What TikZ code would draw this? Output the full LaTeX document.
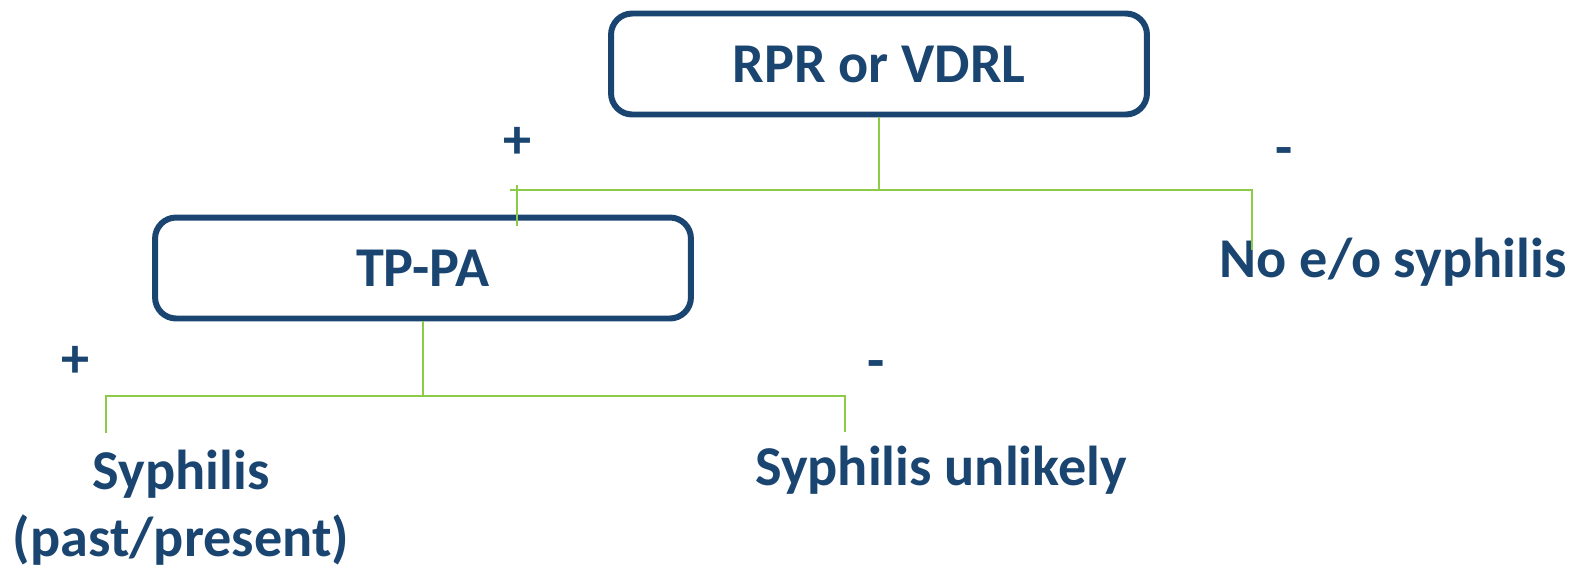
\documentclass[tikz,border=0pt]{standalone}
\usepackage{fontspec}
\setmainfont{Carlito}
\definecolor{boxblue}{HTML}{1B4571}
\definecolor{linegreen}{HTML}{8CCB4A}
\tikzset{
  testbox/.style={draw=boxblue, line width=3.4pt, rounded corners=12pt, minimum width=10.72cm, minimum height=2.02cm, font=\fontsize{32}{38}\selectfont\bfseries, text=boxblue},
  result/.style={font=\fontsize{32}{38}\selectfont\bfseries, text=boxblue, align=center},
  sign/.style={font=\fontsize{32}{38}\selectfont\bfseries, text=boxblue},
  branch/.style={draw=linegreen, line width=1.1pt}
}
\begin{document}
\begin{tikzpicture}[x=0.02cm, y=-0.02cm]
\useasboundingbox (0,0) rectangle (1585,575);

\node[testbox] (rpr) at (879,64) {RPR or VDRL};
\node[testbox] (tppa) at (423,268) {TP-PA};

\node[result] (noeo) at (1393,262) {No e/o syphilis};
\node[result] (syph) at (181,508) {Syphilis\\(past/present)};
\node[result] (unlikely) at (941,470) {Syphilis unlikely};

\node[sign] (p1) at (517,143) {+};
\node[sign] (m1) at (1284,157) {-};
\node[sign] (p2) at (75,362) {+};
\node[sign] (m2) at (876,370) {-};

\coordinate (j1) at (879,190);
\coordinate (l1) at (510,190);
\coordinate (r1) at (1252,190);
\coordinate (lt) at (517,185);
\coordinate (lb) at (517,226);
\coordinate (rb) at (1252,250);

\draw[branch] (rpr.south) -- (j1);
\draw[branch] (l1) -- (r1) -- (rb);
\draw[branch] (lt) -- (lb);

\coordinate (j2) at (423,396);
\coordinate (l2) at (106,396);
\coordinate (r2) at (845,396);
\coordinate (l2b) at (106,433);
\coordinate (r2b) at (845,432);

\draw[branch] (tppa.south) -- (j2);
\draw[branch] (l2b) -- (l2) -- (r2) -- (r2b);
\end{tikzpicture}
\end{document}
